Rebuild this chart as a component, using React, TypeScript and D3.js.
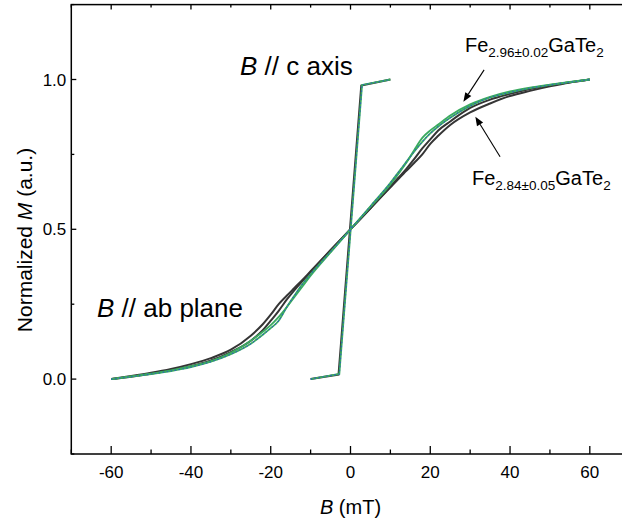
import React from "react";
import * as d3 from "d3";

// ---------- data ----------
const fieldAb = [-60, -55, -50, -45, -40, -35, -30, -25, -22, -20, -18, -16, -14, -12, -10, -5, 0, 5, 10, 12, 14, 16, 18, 20, 22, 25, 30, 35, 40, 45, 50, 55, 60];
// Fe2.96 (green / blue) sweep up
const mAbFe296Up = [0, 0.008, 0.017, 0.027, 0.04, 0.058, 0.083, 0.118, 0.148, 0.17, 0.195, 0.24, 0.28, 0.318, 0.35, 0.425, 0.5, 0.577, 0.655, 0.69, 0.725, 0.76, 0.792, 0.82, 0.843, 0.872, 0.912, 0.94, 0.957, 0.971, 0.982, 0.991, 1.0];
// Fe2.96 sweep down
const mAbFe296Down = [0, 0.009, 0.018, 0.029, 0.043, 0.06, 0.088, 0.128, 0.158, 0.18, 0.208, 0.24, 0.275, 0.31, 0.345, 0.423, 0.5, 0.575, 0.65, 0.685, 0.722, 0.765, 0.805, 0.83, 0.85, 0.88, 0.917, 0.942, 0.96, 0.973, 0.983, 0.992, 1.0];
// Fe2.84 (black) sweep up
const mAbFe284Up = [0, 0.008, 0.018, 0.03, 0.043, 0.062, 0.09, 0.128, 0.163, 0.195, 0.228, 0.265, 0.298, 0.328, 0.357, 0.43, 0.5, 0.57, 0.64, 0.668, 0.695, 0.722, 0.75, 0.785, 0.812, 0.848, 0.89, 0.92, 0.945, 0.962, 0.977, 0.99, 1.0];
// Fe2.84 sweep down
const mAbFe284Down = [0, 0.01, 0.021, 0.034, 0.05, 0.07, 0.098, 0.145, 0.183, 0.215, 0.25, 0.278, 0.305, 0.332, 0.36, 0.43, 0.5, 0.57, 0.643, 0.672, 0.702, 0.735, 0.77, 0.8, 0.83, 0.86, 0.905, 0.933, 0.952, 0.968, 0.981, 0.991, 1.0];

const fieldCFe296 = [-10, -2.8, 2.9, 10];
const mCFe296 = [0, 0.017, 0.982, 1.0];
const fieldCFe284 = [-10, -3.0, 2.7, 10];
const mCFe284 = [0, 0.015, 0.98, 1.0];

const xMajorTicks = [-60, -40, -20, 0, 20, 40, 60];
const xMinorTicks = [-70, -50, -30, -10, 10, 30, 50, 70];
const yMajorTicks = [0, 0.5, 1.0];
const yMinorTicks = [-0.25, 0.25, 0.75, 1.25];

// ---------- layout ----------
const W = 622;
const H = 524;
const x = d3.scaleLinear().domain([-70, 70]).range([71.3, 629.7]);
const y = d3.scaleLinear().domain([-0.25, 1.25]).range([454, 4.6]);

const FONT = "'Liberation Sans', Arial, Helvetica, sans-serif";
const BLACK_LINE = "#353535";
const GREEN = "#3aaa60";
const BLUE = "#2a55d0";

type P = [number, number];
const zip = (xs: number[], ys: number[]): P[] => xs.map((v, i) => [v, ys[i]]);

const smooth = d3
  .line<P>()
  .x((d) => x(d[0]))
  .y((d) => y(d[1]))
  .curve(d3.curveMonotoneX);
const straight = d3
  .line<P>()
  .x((d) => x(d[0]))
  .y((d) => y(d[1]));

function Arrow({ from, to }: { from: P; to: P }) {
  const x1 = x(from[0]);
  const y1 = y(from[1]);
  const x2 = x(to[0]);
  const y2 = y(to[1]);
  const ang = Math.atan2(y2 - y1, x2 - x1);
  const len = 9;
  const wid = 3.6;
  const bx = x2 - len * Math.cos(ang);
  const by = y2 - len * Math.sin(ang);
  const px = -Math.sin(ang) * wid;
  const py = Math.cos(ang) * wid;
  return (
    <g>
      <line x1={x1} y1={y1} x2={bx} y2={by} stroke="#000" strokeWidth={1.1} />
      <polygon points={`${x2},${y2} ${bx + px},${by + py} ${bx - px},${by - py}`} fill="#000" />
    </g>
  );
}

function FeLabel({ px, py, sub }: { px: number; py: number; sub: string }) {
  return (
    <text x={px} y={py} fontFamily={FONT} fontSize={20} fill="#000">
      Fe
      <tspan fontSize={13.5} dy={5}>{sub}</tspan>
      <tspan fontSize={20} dy={-5}>GaTe</tspan>
      <tspan fontSize={13.5} dy={5}>2</tspan>
    </text>
  );
}

export default function App() {
  const x0 = x(-70);
  const x1 = x(70);
  const yTop = y(1.25);
  const yBot = y(-0.25);

  const fe296Up = zip(fieldAb, mAbFe296Up);
  const fe296Down = zip(fieldAb, mAbFe296Down);
  const fe284Up = zip(fieldAb, mAbFe284Up);
  const fe284Down = zip(fieldAb, mAbFe284Down);
  const c296 = zip(fieldCFe296, mCFe296);
  const c284 = zip(fieldCFe284, mCFe284);

  return (
    <svg
      width={W}
      height={H}
      style={{ position: "absolute", left: 0, top: 0, background: "#fff" }}
    >
      {/* curves: black */}
      <g fill="none" stroke={BLACK_LINE} strokeWidth={2}>
        <path d={smooth(fe284Up) || ""} />
        <path d={smooth(fe284Down) || ""} />
        <path d={straight(c284) || ""} />
      </g>
      {/* curves: green */}
      <g fill="none" stroke={GREEN} strokeWidth={1.8}>
        <path d={smooth(fe296Up) || ""} />
        <path d={smooth(fe296Down) || ""} />
        <path d={straight(c296) || ""} />
      </g>
      {/* blue markers overlay */}
      <g fill="none" stroke={BLUE} strokeWidth={1.1} strokeDasharray="1.5 2.5" opacity={0.85}>
        <path d={smooth(fe296Up) || ""} />
        <path d={straight(c296) || ""} />
      </g>

      {/* frame */}
      <rect x={x0} y={yTop} width={x1 - x0} height={yBot - yTop} fill="none" stroke="#000" strokeWidth={1.5} />

      {/* ticks */}
      <g stroke="#000" strokeWidth={1.3}>
        {xMajorTicks.map((t) => (
          <g key={"xM" + t}>
            <line x1={x(t)} x2={x(t)} y1={yBot} y2={yBot - 8} />
            <line x1={x(t)} x2={x(t)} y1={yTop} y2={yTop + 5} />
          </g>
        ))}
        {xMinorTicks.map((t) => (
          <g key={"xm" + t}>
            <line x1={x(t)} x2={x(t)} y1={yBot} y2={yBot - 4.5} />
            <line x1={x(t)} x2={x(t)} y1={yTop} y2={yTop + 3} />
          </g>
        ))}
        {yMajorTicks.map((t) => (
          <line key={"yM" + t} x1={x0} x2={x0 + 5} y1={y(t)} y2={y(t)} />
        ))}
        {yMinorTicks.map((t) => (
          <line key={"ym" + t} x1={x0} x2={x0 + 3} y1={y(t)} y2={y(t)} />
        ))}
      </g>

      {/* tick labels */}
      <g fontFamily={FONT} fontSize={17} fill="#000">
        {xMajorTicks.map((t) => (
          <text key={"xl" + t} x={x(t)} y={yBot + 24} textAnchor="middle">
            {t === 0 ? "0" : t < 0 ? "-" + Math.abs(t) : String(t)}
          </text>
        ))}
        {yMajorTicks.map((t) => (
          <text key={"yl" + t} x={x0 - 5} y={y(t) + 6} textAnchor="end">
            {t.toFixed(1)}
          </text>
        ))}
      </g>

      {/* axis titles */}
      <text x={x(0)} y={514} textAnchor="middle" fontFamily={FONT} fontSize={20} fill="#000">
        <tspan fontStyle="italic">B</tspan> (mT)
      </text>
      <text
        transform={`translate(32, 240) rotate(-90)`}
        textAnchor="middle"
        fontFamily={FONT}
        fontSize={21}
        fill="#000"
      >
        Normalized <tspan fontStyle="italic">M</tspan> (a.u.)
      </text>

      {/* annotations */}
      <text x={240} y={75} fontFamily={FONT} fontSize={26} fill="#000">
        <tspan fontStyle="italic">B</tspan> // c axis
      </text>
      <text x={97} y={317} fontFamily={FONT} fontSize={26} fill="#000">
        <tspan fontStyle="italic">B</tspan> // ab plane
      </text>
      <FeLabel px={465} py={52} sub="2.96±0.02" />
      <FeLabel px={472} py={185} sub="2.84±0.05" />
      <Arrow from={[33.5, 1.032]} to={[28.3, 0.926]} />
      <Arrow from={[37.5, 0.742]} to={[31.3, 0.876]} />
    </svg>
  );
}
